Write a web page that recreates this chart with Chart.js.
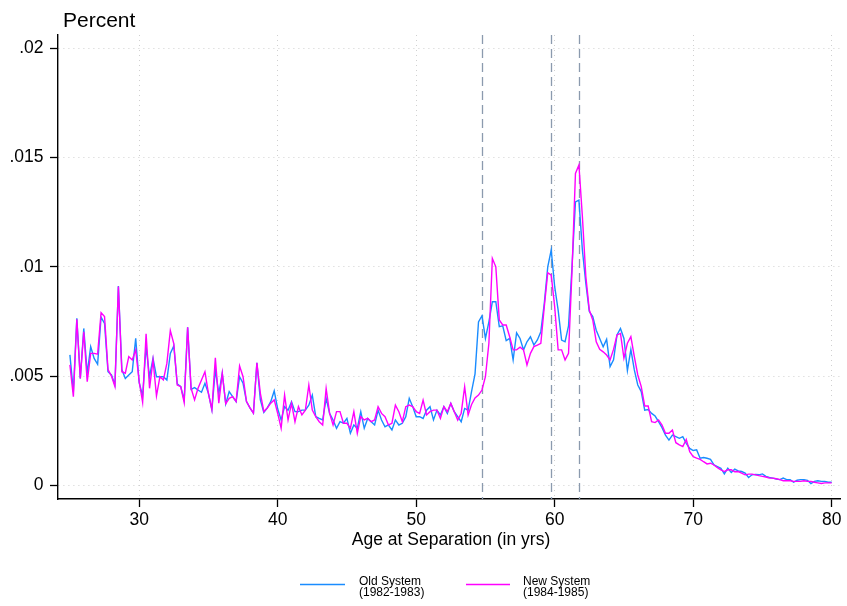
<!DOCTYPE html>
<html>
<head>
<meta charset="utf-8">
<title>Age at Separation</title>
<script src="https://cdn.jsdelivr.net/npm/chart.js@4.4.1/dist/chart.umd.min.js"></script>
<style>
  html, body { margin: 0; padding: 0; background: #fff; }
  #wrap { width: 847px; height: 606px; }
</style>
</head>
<body>
<div id="wrap"><canvas id="sepChart" width="847" height="606"></canvas></div>
<script>
'use strict';

// quarterly age bins (years)
var ages = [
  25, 25.25, 25.5, 25.75, 26, 26.25, 26.5, 26.75, 27, 27.25, 27.5, 27.75,
  28, 28.25, 28.5, 28.75, 29, 29.25, 29.5, 29.75, 30, 30.25, 30.5, 30.75,
  31, 31.25, 31.5, 31.75, 32, 32.25, 32.5, 32.75, 33, 33.25, 33.5, 33.75,
  34, 34.25, 34.5, 34.75, 35, 35.25, 35.5, 35.75, 36, 36.25, 36.5, 36.75,
  37, 37.25, 37.5, 37.75, 38, 38.25, 38.5, 38.75, 39, 39.25, 39.5, 39.75,
  40, 40.25, 40.5, 40.75, 41, 41.25, 41.5, 41.75, 42, 42.25, 42.5, 42.75,
  43, 43.25, 43.5, 43.75, 44, 44.25, 44.5, 44.75, 45, 45.25, 45.5, 45.75,
  46, 46.25, 46.5, 46.75, 47, 47.25, 47.5, 47.75, 48, 48.25, 48.5, 48.75,
  49, 49.25, 49.5, 49.75, 50, 50.25, 50.5, 50.75, 51, 51.25, 51.5, 51.75,
  52, 52.25, 52.5, 52.75, 53, 53.25, 53.5, 53.75, 54, 54.25, 54.5, 54.75,
  55, 55.25, 55.5, 55.75, 56, 56.25, 56.5, 56.75, 57, 57.25, 57.5, 57.75,
  58, 58.25, 58.5, 58.75, 59, 59.25, 59.5, 59.75, 60, 60.25, 60.5, 60.75,
  61, 61.25, 61.5, 61.75, 62, 62.25, 62.5, 62.75, 63, 63.25, 63.5, 63.75,
  64, 64.25, 64.5, 64.75, 65, 65.25, 65.5, 65.75, 66, 66.25, 66.5, 66.75,
  67, 67.25, 67.5, 67.75, 68, 68.25, 68.5, 68.75, 69, 69.25, 69.5, 69.75,
  70, 70.25, 70.5, 70.75, 71, 71.25, 71.5, 71.75, 72, 72.25, 72.5, 72.75,
  73, 73.25, 73.5, 73.75, 74, 74.25, 74.5, 74.75, 75, 75.25, 75.5, 75.75,
  76, 76.25, 76.5, 76.75, 77, 77.25, 77.5, 77.75, 78, 78.25, 78.5, 78.75,
  79, 79.25, 79.5, 79.75, 80
];

// share of separations, in thousandths (y axis labels show the fraction)
var oldSystem = [
  5.97, 4.29, 7.64, 4.89,  7.18, 5.13, 6.35, 5.81,  5.54, 7.7, 7.41, 5.2,
  5.05, 4.6, 9.12, 5.3,    4.89, 5.05, 5.2, 6.73,   4.7, 4.1, 6.35, 4.97,
  5.81, 4.97, 4.97, 4.97,  4.82, 6.04, 6.38, 4.64,  4.52, 3.91, 7.23, 4.39,
  4.47, 4.36, 4.26, 4.67,  4.21, 3.46, 5.28, 4.21,  5.13, 3.73, 4.29, 4.06,
  3.83, 4.97, 4.67, 3.83,  3.54, 3.3, 5.61, 3.91,   3.33, 3.54, 3.83, 4.32,
  3.5, 2.99, 3.6, 3.44,    3.83, 3.37, 3.37, 3.44,  3.44, 3.67, 4.13, 3.14,
  3.06, 2.99, 3.98, 3.29,  2.99, 2.61, 2.91, 2.84,  3.06, 2.38, 2.76, 2.61,
  3.37, 2.61, 3.06, 2.91,  2.76, 3.44, 2.99, 2.68,  2.76, 2.53, 2.99, 2.76,
  2.84, 3.14, 3.98, 3.6,   3.14, 3.14, 3.06, 3.44,  3.6, 2.99, 3.44, 3.22,
  3.6, 3.29, 3.75, 3.37,   3.14, 2.91, 3.52, 3.44,  4.3, 5.1, 7.48, 7.76,
  6.72, 7.48, 8.4, 8.4,    7.26, 7.3, 6.62, 6.72,   5.74, 6.98, 6.72, 6.2,
  6.57, 6.8, 6.42, 6.65,   7.03, 8.33, 10.0, 10.77, 9.09, 8.02, 6.65, 6.57,
  7.3, 10.0, 12.97, 13.05, 10.77, 9.24, 7.95, 7.72, 7.1, 6.72, 6.34, 6.68,
  5.43, 5.74, 6.88, 7.18,  6.72, 5.25, 6.22, 5.28,  4.59, 4.29, 3.44, 3.47,
  3.29, 3.17, 2.91, 2.64,  2.3, 2.07, 2.3, 2.23,    2.15, 2.23, 1.92, 1.69,
  1.59, 1.62, 1.24, 1.27,  1.24, 1.19, 0.93, 0.86,  0.78, 0.52, 0.78, 0.59,
  0.74, 0.66, 0.63, 0.56,  0.36, 0.48, 0.5, 0.48,   0.52, 0.41, 0.36, 0.33,
  0.29, 0.26, 0.33, 0.26,  0.26, 0.14, 0.23, 0.26,  0.26, 0.23, 0.08, 0.18,
  0.21, 0.18, 0.18, 0.14,  0.14
];

var newSystem = [
  5.51, 4.06, 7.6, 4.89,   7.03, 4.74, 6.04, 6.04,  6.0, 7.9, 7.72, 5.3,
  5.0, 4.52, 9.1, 5.2,     5.13, 5.89, 5.74, 6.2,   4.75, 3.8, 6.93, 4.44,
  5.74, 4.09, 4.97, 4.82,  5.58, 7.08, 6.49, 4.59,  4.52, 3.79, 7.23, 4.44,
  3.91, 4.44, 4.82, 5.2,   4.21, 3.46, 5.84, 3.76,  5.13, 3.73, 3.98, 4.06,
  3.83, 5.46, 4.97, 3.83,  3.54, 3.3, 5.61, 4.21,   3.38, 3.54, 3.76, 3.91,
  3.3, 2.61, 4.13, 2.99,   3.75, 2.91, 3.6, 3.22,   3.44, 4.59, 3.44, 3.14,
  2.91, 2.76, 4.43, 3.29,  2.76, 3.37, 3.37, 2.84,  2.84, 2.61, 3.37, 2.38,
  3.14, 2.99, 3.06, 2.91,  2.99, 3.6, 3.29, 3.14,   2.76, 2.84, 3.67, 3.37,
  2.91, 3.6, 3.67, 3.6,    3.37, 3.29, 3.9, 3.22,   3.37, 3.44, 3.44, 3.06,
  3.6, 3.37, 3.75, 3.37,   2.99, 3.3, 4.51, 3.22,   3.7, 4.0, 4.13, 4.36,
  4.97, 6.5, 10.38, 10.0,  7.57, 7.34, 7.34, 6.8,   6.2, 6.2, 6.32, 6.2,
  5.51, 6.04, 6.35, 6.42,  6.5, 8.17, 9.73, 9.62,   8.17, 6.2, 6.2, 5.74,
  6.04, 9.8, 14.27, 14.66, 12.3, 9.55, 8.02, 7.57,  6.57, 6.22, 6.11, 5.96,
  5.74, 6.22, 6.88, 6.95,  5.82, 6.5, 6.8, 5.89,    5.05, 4.52, 3.63, 3.63,
  2.91, 2.87, 2.99, 2.76,  2.38, 2.38, 2.53, 1.95,  1.85, 1.77, 2.1, 1.54,
  1.31, 1.24, 1.19, 1.08,  0.98, 1.01, 0.93, 0.81,  0.71, 0.63, 0.71, 0.71,
  0.62, 0.63, 0.56, 0.48,  0.51, 0.51, 0.48, 0.44,  0.41, 0.38, 0.33, 0.33,
  0.3, 0.26, 0.21, 0.21,   0.21, 0.18, 0.18, 0.18,  0.21, 0.18, 0.18, 0.14,
  0.11, 0.08, 0.11, 0.11,  0.11
];

// vertical reference lines (age)
var cutoffAges = [54.75, 59.75, 61.75];

// tick labels
var xTickValues = [30, 40, 50, 60, 70, 80];
var yTickValues = [0, 5, 10, 15, 20];
var yTickLabels = ['0', '.005', '.01', '.015', '.02'];

// legend text
var oldLabel = ['Old System', '(1982-1983)'];
var newLabel = ['New System', '(1984-1985)'];

var FONT = '"Liberation Sans", Arial, Helvetica, sans-serif';
var BLUE = '#1a8cff';
var MAGENTA = '#ff00ff';

// dashed vertical lines at the cutoffs, under the data
var cutoffPlugin = {
  id: 'cutoffs',
  beforeDatasetsDraw: function(chart) {
    var ctx = chart.ctx;
    var area = chart.chartArea;
    var xScale = chart.scales.x;
    ctx.save();
    ctx.strokeStyle = '#8b9aae';
    ctx.lineWidth = 1.3;
    ctx.setLineDash([9, 5]);
    cutoffAges.forEach(function(age) {
      var px = Math.round(xScale.getPixelForValue(age)) + 0.5;
      ctx.beginPath();
      ctx.moveTo(px, area.top);
      ctx.lineTo(px, area.bottom);
      ctx.stroke();
    });
    ctx.restore();
  }
};

// axis titles and legend, placed the way Stata puts them
var textPlugin = {
  id: 'stataText',
  afterDraw: function(chart) {
    var ctx = chart.ctx;
    ctx.save();
    ctx.fillStyle = '#000';
    ctx.textBaseline = 'alphabetic';

    ctx.font = '21px ' + FONT;
    ctx.textAlign = 'left';
    ctx.fillText('Percent', 63, 26.5);

    ctx.font = '17.5px ' + FONT;
    ctx.textAlign = 'center';
    ctx.fillText('Age at Separation (in yrs)', 451, 545);

    // legend
    var items = [
      { color: BLUE, text: oldLabel, x0: 300, x1: 345, tx: 359 },
      { color: MAGENTA, text: newLabel, x0: 466, x1: 510, tx: 523 }
    ];
    ctx.font = '12px ' + FONT;
    ctx.textAlign = 'left';
    items.forEach(function(it) {
      ctx.strokeStyle = it.color;
      ctx.lineWidth = 1.4;
      ctx.beginPath();
      ctx.moveTo(it.x0, 584.5);
      ctx.lineTo(it.x1, 584.5);
      ctx.stroke();
      ctx.fillText(it.text[0], it.tx, 585);
      ctx.fillText(it.text[1], it.tx, 596);
    });
    ctx.restore();
  }
};

function axisGrid() {
  return {
    color: '#d0d0d0',
    lineWidth: 1,
    tickLength: 8,
    tickColor: '#000',
    tickWidth: 1.3,
    tickBorderDash: []
  };
}

var ctx = document.getElementById('sepChart').getContext('2d');
var sepChart = new Chart(ctx, {
  type: 'line',
  data: {
    labels: ages,
    datasets: [
      {
        label: oldLabel.join(' '),
        data: oldSystem,
        borderColor: BLUE,
        borderWidth: 1.4,
        pointRadius: 0,
        tension: 0,
        fill: false,
        order: 2
      },
      {
        label: newLabel.join(' '),
        data: newSystem,
        borderColor: MAGENTA,
        borderWidth: 1.4,
        pointRadius: 0,
        tension: 0,
        fill: false,
        order: 1
      }
    ]
  },
  options: {
    responsive: false,
    animation: false,
    layout: { padding: { top: 35, right: 7, left: 0, bottom: 0 } },
    plugins: {
      legend: { display: false },
      tooltip: { enabled: false },
      title: { display: false }
    },
    scales: {
      x: {
        type: 'linear',
        min: 24.14,
        max: 80.6,
        afterBuildTicks: function(scale) {
          scale.ticks = xTickValues.map(function(v) { return { value: v }; });
        },
        afterFit: function(scale) { scale.height = 107; },
        ticks: {
          color: '#000',
          font: { family: FONT, size: 17.5 },
          padding: 3,
          maxRotation: 0,
          autoSkip: false,
          includeBounds: false
        },
        grid: axisGrid(),
        border: { display: true, color: '#000', width: 1.4, dash: [1, 4] }
      },
      y: {
        type: 'linear',
        min: -0.627,
        max: 20.61,
        afterBuildTicks: function(scale) {
          scale.ticks = yTickValues.map(function(v) { return { value: v }; });
        },
        afterFit: function(scale) { scale.width = 58; },
        ticks: {
          color: '#000',
          font: { family: FONT, size: 17.5 },
          padding: 6.5,
          autoSkip: false,
          includeBounds: false,
          callback: function(value) {
            var i = yTickValues.indexOf(value);
            return i >= 0 ? yTickLabels[i] : '';
          }
        },
        grid: axisGrid(),
        border: { display: true, color: '#000', width: 1.4, dash: [1, 4] }
      }
    }
  },
  plugins: [cutoffPlugin, textPlugin]
});
</script>
</body>
</html>
